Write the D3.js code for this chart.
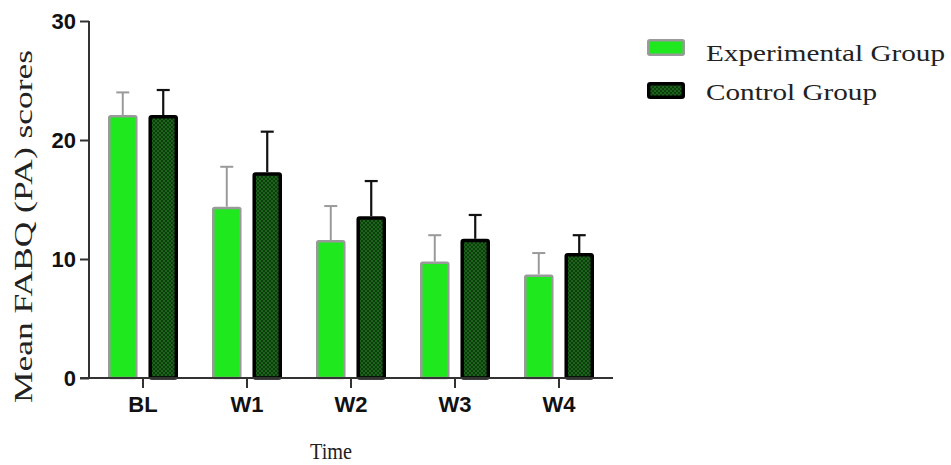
<!DOCTYPE html>
<html>
<head>
<meta charset="utf-8">
<script src="https://cdn.jsdelivr.net/npm/d3@7"></script>
<style>
  html, body { margin: 0; padding: 0; background: #fff; }
  svg { display: block; }
</style>
</head>
<body>
<svg id="chart" width="951" height="465"></svg>
<script>
const categories = ["BL", "W1", "W2", "W3", "W4"];
const seriesNames = ["Experimental Group", "Control Group"];
const experimental = [22.1, 14.4, 11.6, 9.8, 8.7];
const experimentalSD = [1.9, 3.35, 2.85, 2.2, 1.8];
const control = [22.1, 17.3, 13.6, 11.7, 10.5];
const controlSD = [2.1, 3.4, 2.95, 2.0, 1.5];
const yTicks = [0, 10, 20, 30];

const svg = d3.select("#chart");
const defs = svg.append("defs");
const pat = defs.append("pattern").attr("id", "dots")
  .attr("patternUnits", "userSpaceOnUse").attr("width", 4).attr("height", 4);
pat.append("rect").attr("width", 4).attr("height", 4).attr("fill", "#0c3f0c");
pat.append("rect").attr("x", 0).attr("y", 0).attr("width", 2).attr("height", 2).attr("fill", "#1d621d");
pat.append("rect").attr("x", 2).attr("y", 2).attr("width", 2).attr("height", 2).attr("fill", "#1d621d");

const y = d3.scaleLinear().domain([0, 30]).range([378, 21]);
const x0 = d3.scaleBand().domain(categories).range([91, 611]).paddingInner(0).paddingOuter(0);
const x1 = d3.scaleBand().domain(seriesNames).range([17, 87]).paddingInner(0.27);

const styles = {
  "Experimental Group": { fill: "#1fe81f", stroke: "#9a9a9a", sw: 2.5, err: "#9a9a9a", ew: 2 },
  "Control Group": { fill: "url(#dots)", stroke: "#000", sw: 3.5, err: "#111", ew: 2.2 }
};

const rows = categories.map((c, i) => ({
  cat: c,
  vals: [
    { s: seriesNames[0], v: experimental[i], e: experimentalSD[i] },
    { s: seriesNames[1], v: control[i], e: controlSD[i] }
  ]
}));

const g = svg.append("g");
const groups = g.selectAll("g.cat").data(rows).join("g")
  .attr("transform", d => `translate(${x0(d.cat)},0)`);

// error bars (behind bars)
groups.selectAll("g.err").data(d => d.vals).join("g").each(function(d) {
  const st = styles[d.s];
  const cx = x1(d.s) + x1.bandwidth() / 2;
  const sel = d3.select(this);
  sel.append("line").attr("x1", cx).attr("x2", cx)
    .attr("y1", y(d.v)).attr("y2", y(d.v + d.e))
    .attr("stroke", st.err).attr("stroke-width", st.ew);
  sel.append("line").attr("x1", cx - 6.5).attr("x2", cx + 6.5)
    .attr("y1", y(d.v + d.e)).attr("y2", y(d.v + d.e))
    .attr("stroke", st.err).attr("stroke-width", st.ew);
});

groups.selectAll("rect.bar").data(d => d.vals).join("rect")
  .attr("class", "bar")
  .attr("x", d => x1(d.s) + styles[d.s].sw / 2)
  .attr("width", d => x1.bandwidth() - styles[d.s].sw)
  .attr("y", d => y(d.v) + styles[d.s].sw / 2)
  .attr("height", d => y(0) - y(d.v) - styles[d.s].sw / 2)
  .attr("fill", d => styles[d.s].fill)
  .attr("stroke", d => styles[d.s].stroke)
  .attr("stroke-width", d => styles[d.s].sw)
  .attr("rx", 1.5);

// Y axis
const yAxis = d3.axisLeft(y).tickValues(yTicks).tickSize(9).tickPadding(4).tickFormat(d3.format("d"));
const ya = svg.append("g").attr("transform", "translate(89,0)").call(yAxis);
ya.select(".domain").attr("stroke", "#333").attr("stroke-width", 2).attr("d", `M0,${y(30)}V${y(0)}`);
ya.selectAll(".tick line").attr("stroke", "#333").attr("stroke-width", 2);
ya.selectAll(".tick text").attr("font-family", "'Liberation Sans', Arial, sans-serif")
  .attr("font-weight", "bold").attr("font-size", 22).attr("fill", "#111").attr("dy", "0.36em");

// X axis
const xAxis = d3.axisBottom(x0).tickSize(10).tickPadding(8);
const xa = svg.append("g").attr("transform", `translate(0,${y(0)})`).call(xAxis);
xa.select(".domain").attr("stroke", "#333").attr("stroke-width", 2).attr("d", "M80,0H613");
xa.selectAll(".tick line").attr("stroke", "#333").attr("stroke-width", 2);
xa.selectAll(".tick text").attr("font-family", "'Liberation Sans', Arial, sans-serif")
  .attr("font-weight", "bold").attr("font-size", 22).attr("fill", "#111").attr("dy", "0.71em");

// Axis titles
svg.append("text").attr("x", 310).attr("y", 459)
  .attr("font-family", "'Liberation Serif', 'Times New Roman', serif")
  .attr("font-size", 24).attr("fill", "#222")
  .attr("textLength", 42).attr("lengthAdjust", "spacingAndGlyphs")
  .text("Time");

svg.append("text")
  .attr("transform", "translate(32,403) rotate(-90)")
  .attr("font-family", "'Liberation Serif', 'Times New Roman', serif")
  .attr("font-size", 25).attr("fill", "#222")
  .attr("textLength", 353).attr("lengthAdjust", "spacingAndGlyphs")
  .text("Mean FABQ (PA) scores");

// Legend
const legend = svg.append("g");
const legendRows = [
  { s: seriesNames[0], y: 39, ty: 61, w: 239 },
  { s: seriesNames[1], y: 82, ty: 100, w: 171 }
];
legendRows.forEach(r => {
  const st = styles[r.s];
  legend.append("rect")
    .attr("x", 647 + st.sw / 2).attr("y", r.y + st.sw / 2)
    .attr("width", 38 - st.sw).attr("height", 17 - st.sw)
    .attr("fill", st.fill).attr("stroke", st.stroke).attr("stroke-width", st.sw).attr("rx", 1.5);
  legend.append("text").attr("x", 706).attr("y", r.ty)
    .attr("font-family", "'Liberation Serif', 'Times New Roman', serif")
    .attr("font-size", 23).attr("fill", "#222")
    .attr("textLength", r.w).attr("lengthAdjust", "spacingAndGlyphs")
    .text(r.s);
});
</script>
</body>
</html>
